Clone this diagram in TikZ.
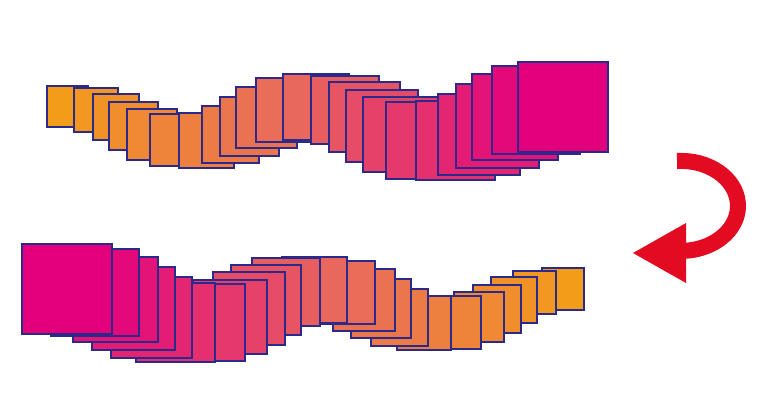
\documentclass[tikz,border=0pt]{standalone}
\definecolor{cA}{RGB}{243,156,26}
\definecolor{cB}{RGB}{232,104,94}
\definecolor{cC}{RGB}{226,0,125}
\definecolor{edge}{RGB}{43,42,138}
\definecolor{arrowred}{RGB}{227,11,34}
\begin{document}
\begin{tikzpicture}[x=0.75pt,y=-0.75pt,
  tile/.style={draw=edge, line width=1.5pt, line join=miter, fill=tilefill},
  turn/.style={draw=arrowred, line width=12pt}]
\useasboundingbox (0,0) rectangle (775,401);
\foreach \L/\T [count=\i] in {46.7/85.7, 74.3/88, 93.3/94.3, 109.3/102, 126.7/109.3,
  150/113.7, 179.3/113, 202.3/106, 220/96.7, 236/86.7, 255.7/78.3, 283.3/74.3,
  310.5/75.8, 329.3/82, 345.7/89.7, 363.3/97.3, 386/101.7, 415.7/100.7,
  438.3/94, 455.7/84.3, 472.3/74.3, 491.7/66, 518.3/61.7} {
  \pgfmathsetmacro\s{41.6+2.2*(\i-1)}
  \pgfmathtruncatemacro\p{100*(12-\i)/11}
  \pgfmathtruncatemacro\q{100*(23-\i)/11}
  \ifnum\i<13 \colorlet{tilefill}{cA!\p!cB}\else \colorlet{tilefill}{cB!\q!cC}\fi
  \pgfmathsetmacro\Lb{630.6-\L-\s}
  \pgfmathsetmacro\Tb{\T+182.5}
  \draw[tile] (\L,\T) rectangle ++(\s,\s);
  \draw[tile] (\Lb,\Tb) rectangle ++(\s,\s);
}
\coordinate (arcstart) at (677,161);
\draw[turn] (arcstart) arc[start angle=94, end angle=-90, x radius=42.75pt, y radius=33.75pt] coordinate (arcend);
\fill[arrowred] (686,223) -- (686,283) -- (633,253) -- cycle;
\end{tikzpicture}
\end{document}
